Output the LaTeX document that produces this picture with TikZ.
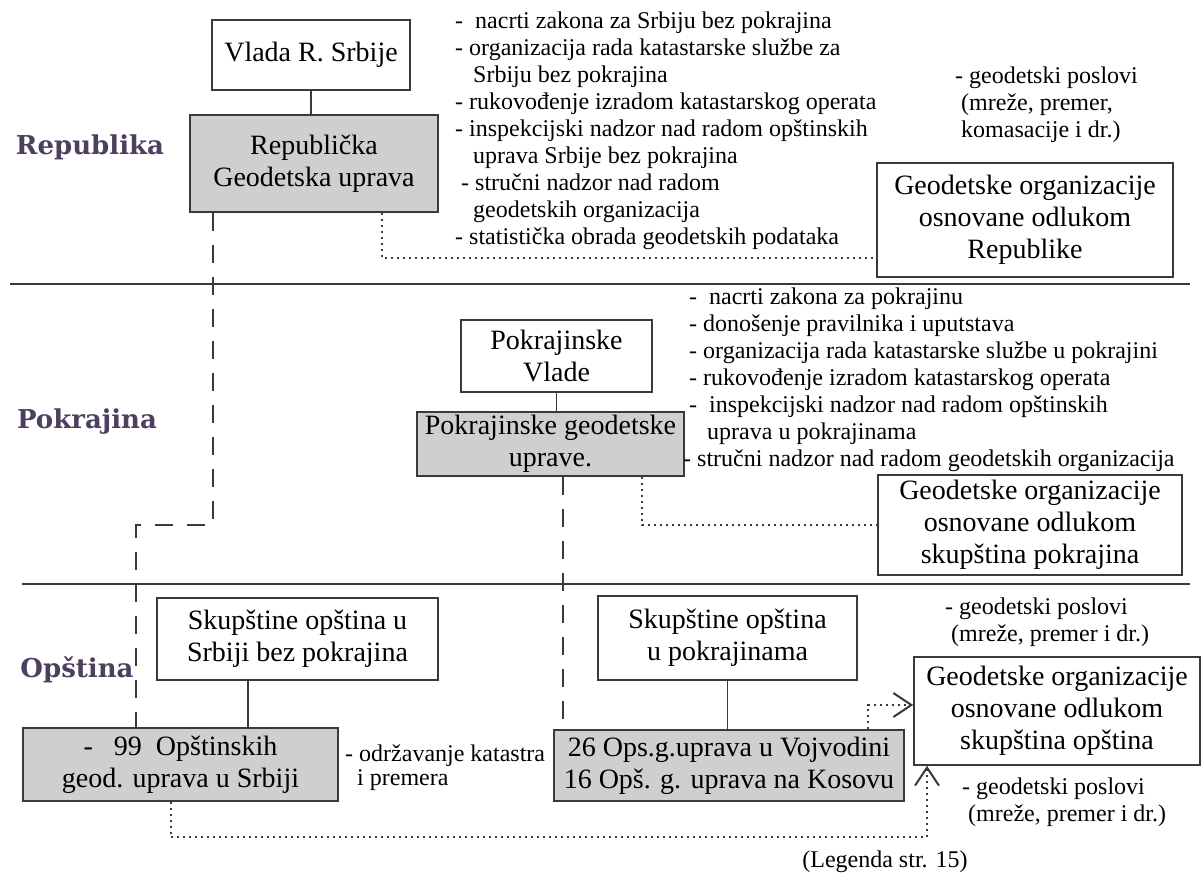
\documentclass[tikz,border=0pt]{standalone}
\usepackage{fontspec}
\setmainfont{Liberation Serif}
\newfontfamily\levelfont{DejaVu Serif}
\usetikzlibrary{arrows.meta}
\definecolor{Level}{HTML}{4D3F5E}
\definecolor{Edge}{HTML}{3A3A3A}
\definecolor{Shade}{HTML}{CFCFCF}
\newcommand{\boxfont}{\fontsize{28}{32}\selectfont}
\newcommand{\listfont}{\fontsize{24}{27}\selectfont}

\begin{document}
\begin{tikzpicture}[x=1pt,y=-1pt,
  unit/.style={draw=Edge, line width=1.6pt, inner sep=0pt, align=center, font=\boxfont},
  grayunit/.style={unit, fill=Shade},
  duties/.style={anchor=north west, inner sep=0pt, align=left, font=\listfont},
  level/.style={font=\levelfont\bfseries\fontsize{26}{30}\selectfont, text=Level},
  link/.style={draw=Edge, line width=1.6pt},
  dashlink/.style={link, dash pattern=on 18pt off 14pt},
  dotlink/.style={link, line width=2pt, dash pattern=on 2pt off 4pt},
  barb/.style={-{Straight Barb[length=18pt,width=24pt,line width=2pt]}}
]

  \useasboundingbox (0,0) rectangle (1202,890);

  % level rules
  \draw[link, line width=2.4pt] (10,284) -- (1190,284);
  \draw[link, line width=2.4pt] (22,584) -- (1190,584);

  \node[level] (rep) at (90,147) {Republika};
  \node[level] (pok) at (87,422) {Pokrajina};
  \node[level] (ops) at (77,670) {Opština};

  % Republika
  \node[unit, minimum width=198, minimum height=70] (vlada) at (311,55)
    {Vlada R. Srbije};
  \node[grayunit, minimum width=248, minimum height=97] (republicka) at (314,163.5)
    {Republička\\Geodetska uprava};
  \node[unit, minimum width=296, minimum height=114] (orgRep) at (1025,220)
    {Geodetske organizacije\\osnovane odlukom\\Republike};

  \node[duties] (dutyRep) at (455,12)
    {-\ \ nacrti zakona za Srbiju bez pokrajina\\
     - organizacija rada katastarske službe za\\
     \ \ \ Srbiju bez pokrajina\\
     - rukovođenje izradom katastarskog operata\\
     - inspekcijski nadzor nad radom opštinskih\\
     \ \ \ uprava Srbije bez pokrajina\\
     \ - stručni nadzor nad radom\\
     \ \ \ geodetskih organizacija\\
     - statistička obrada geodetskih podataka};
  \node[duties] (geoRep) at (955,67)
    {- geodetski poslovi\\
     \ (mreže, premer,\\
     \ komasacije i dr.)};

  % Pokrajina
  \node[unit, minimum width=191, minimum height=72] (pokVlade) at (556.5,356)
    {Pokrajinske\\Vlade};
  \node[grayunit, minimum width=267, minimum height=64] (pokGeo) at (550.5,444)
    {Pokrajinske geodetske\\uprave.};
  \node[unit, minimum width=304, minimum height=100] (orgPok) at (1030,525)
    {Geodetske organizacije\\osnovane odlukom\\skupština pokrajina};

  \node[duties] (dutyPok) at (683,288)
    {\ -\ \ nacrti zakona za pokrajinu\\
     \ - donošenje pravilnika i uputstava\\
     \ - organizacija rada katastarske službe u pokrajini\\
     \ - rukovođenje izradom katastarskog operata\\
     \ -\ \ inspekcijski nadzor nad radom opštinskih\\
     \ \ \ \ uprava u pokrajinama\\
     - stručni nadzor nad radom geodetskih organizacija};

  % Opstina
  \node[unit, minimum width=281, minimum height=82] (skupSrb) at (297.5,639)
    {Skupštine opština u\\Srbiji bez pokrajina};
  \node[grayunit, minimum width=315, minimum height=73] (opst99) at (180.5,764.5)
    {-\ \ \ 99\ \ Opštinskih\\geod. uprava u Srbiji};
  \node[unit, minimum width=259, minimum height=84] (skupPok) at (727.5,638)
    {Skupštine opština\\u pokrajinama};
  \node[grayunit, minimum width=350, minimum height=71] (okrug) at (729,765.5)
    {26 Ops.g.uprava u Vojvodini\\16 Opš. g. uprava na Kosovu};
  \node[unit, minimum width=286, minimum height=108] (orgOps) at (1057,711)
    {Geodetske organizacije\\osnovane odlukom\\skupština opština};

  \node[duties, font=\fontsize{24}{24}\selectfont] (keepSrb) at (345,745)
    {- održavanje katastra\\
     \ \ i premera};
  \node[duties] (geoOpsTop) at (945,598)
    {- geodetski poslovi\\
     \ (mreže, premer i dr.)};
  \node[duties] (geoOpsBot) at (962,778)
    {- geodetski poslovi\\
     \ (mreže, premer i dr.)};
  \node[font=\listfont] (legend) at (885,862) {(Legenda str. 15)};

  \coordinate (jog) at (136,525);
  \coordinate (dotBase) at (927,837);

  % connectors
  \draw[link] (vlada.south) -- (vlada.south |- republicka.north);
  \draw[link] (pokVlade.south) -- (pokVlade.south |- pokGeo.north);
  \draw[link] ([xshift=-49.5pt]skupSrb.south) -- ([xshift=-49.5pt]skupSrb.south |- opst99.north);
  \draw[link] (skupPok.south) -- (skupPok.south |- okrug.north);

  \draw[dashlink] ([xshift=-101pt]republicka.south) |- (jog) -- (jog |- opst99.north);
  \draw[dashlink] ([xshift=12.5pt]pokGeo.south) -- ([xshift=12.5pt]pokGeo.south |- okrug.north);

  \draw[dotlink] ([xshift=68pt]republicka.south) |- ([yshift=-38pt]orgRep.west);
  \draw[dotlink] ([xshift=91.5pt]pokGeo.south) |- (orgPok.west);
  \draw[dotlink, barb] ([xshift=139pt]okrug.north) |- ([yshift=6pt]orgOps.west);
  \draw[dotlink, barb] ([xshift=-10pt]opst99.south) |- (dotBase) -- (dotBase |- orgOps.south);

\end{tikzpicture}
\end{document}
